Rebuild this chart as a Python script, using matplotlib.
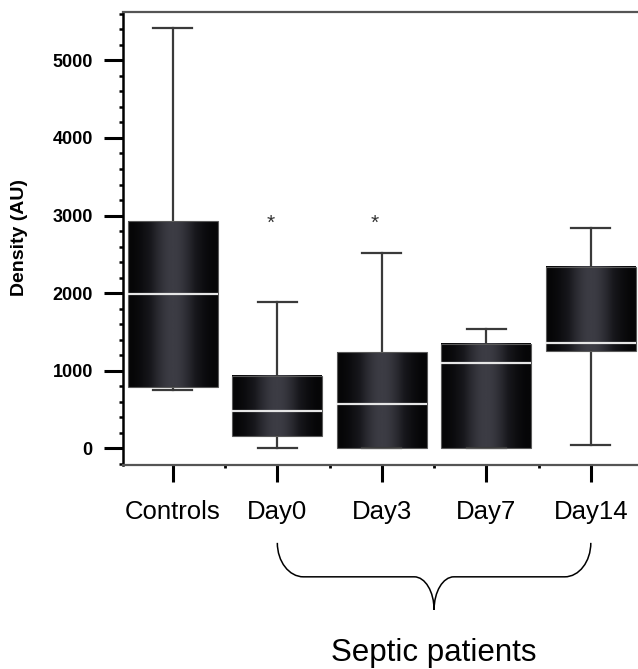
import numpy as np
import matplotlib
matplotlib.use("Agg")
import matplotlib.pyplot as plt
import matplotlib.transforms as mtransforms
from matplotlib.colors import LinearSegmentedColormap
from matplotlib.path import Path
from matplotlib.patches import PathPatch
from matplotlib.ticker import MultipleLocator

plt.rcParams["font.family"] = ["Liberation Sans", "DejaVu Sans"]

# values
groups = ["Controls", "Day0", "Day3", "Day7", "Day14"]
q1 = [786, 158, 0, 0, 1254]
medians = [1990, 485, 571, 1095, 1353]
q3 = [2924, 936, 1237, 1345, 2340]
whisk_lo = [751, 0, 0, 0, 39]
whisk_hi = [5416, 1885, 2517, 1541, 2839]
star_groups = ["Day0", "Day3"]
star_y = 2912
yticks = [0, 1000, 2000, 3000, 4000, 5000]

positions = np.arange(1, len(groups) + 1)
box_w = 0.86

fig = plt.figure(figsize=(6.38, 6.69), dpi=100)
ax = fig.add_axes([0.1923, 0.305, 0.832, 0.677])

stats = [
    dict(label=g, q1=a, med=m, q3=b, whislo=lo, whishi=hi, fliers=[])
    for g, a, m, b, lo, hi in zip(groups, q1, medians, q3, whisk_lo, whisk_hi)
]
ax.bxp(
    stats, positions=positions, widths=box_w, capwidths=0.375,
    showfliers=False, patch_artist=True,
    boxprops=dict(facecolor="none", edgecolor="#5a5a5a", linewidth=0.8, zorder=2.1),
    medianprops=dict(color="#e6e6e6", linewidth=1.6, zorder=2.5),
    whiskerprops=dict(color="#3a3a3a", linewidth=1.6),
    capprops=dict(color="#3a3a3a", linewidth=1.6),
)

# dark shaded fill of the boxes (lighter stripe in the middle)
t = np.linspace(0, 1, 64)
profile = np.cos(np.pi * (t - 0.5)) ** 2
grad = profile[np.newaxis, :]
box_cmap = LinearSegmentedColormap.from_list("box", ["#060607", "#18181d", "#3c3c44"])
for x, lo, hi in zip(positions, q1, q3):
    ax.imshow(grad, extent=(x - box_w / 2, x + box_w / 2, lo, hi), aspect="auto",
              cmap=box_cmap, vmin=0, vmax=1, zorder=1.5, interpolation="bilinear")

for g in star_groups:
    x = positions[groups.index(g)]
    ax.annotate("*", (x, star_y), xytext=(-5, -1), textcoords="offset points",
                ha="center", va="center", fontsize=15, color="#333333")

ax.set_xlim(0.52, 5.6)
ax.set_ylim(-215, 5623)

ax.set_xticks(positions, groups)
ax.xaxis.set_minor_locator(MultipleLocator(0.5))
ax.set_yticks(yticks)
ax.yaxis.set_minor_locator(MultipleLocator(200))

ax.tick_params(axis="y", which="major", direction="out", length=13.5, width=2.2, pad=8, labelsize=13)
ax.tick_params(axis="y", which="minor", direction="out", length=3, width=1.8)
ax.tick_params(axis="x", which="major", direction="out", length=12.5, width=2.2, pad=13, labelsize=18.5)
ax.tick_params(axis="x", which="minor", direction="out", length=2.5, width=2)
for lab in ax.get_yticklabels():
    lab.set_fontweight("bold")

ax.spines["right"].set_visible(False)
ax.spines["left"].set_color("black")
ax.spines["left"].set_linewidth(1.8)
for side in ["top", "bottom"]:
    ax.spines[side].set_color("#555555")
    ax.spines[side].set_linewidth(1.6)

fig.text(20 / 638, 1 - 237 / 669, "Density (AU)", rotation=90, ha="center", va="center",
         fontsize=14, fontweight="bold")

# curly brace under the septic groups
trans = mtransforms.blended_transform_factory(ax.transData, ax.transAxes)
x0 = positions[groups.index("Day0")]
x1 = positions[groups.index("Day14")]
xm = (x0 + x1) / 2
yt, ym, yp = -0.172, -0.247, -0.320
r, r2, k = 0.25, 0.19, 0.552
verts = [
    (x0, yt), (x0, yt + k * (ym - yt)), (x0 + r - k * r, ym), (x0 + r, ym),
    (xm - r2, ym),
    (xm - r2 + k * r2, ym), (xm, yp + k * (ym - yp)), (xm, yp),
    (xm, yp + k * (ym - yp)), (xm + r2 - k * r2, ym), (xm + r2, ym),
    (x1 - r, ym),
    (x1 - r + k * r, ym), (x1, yt + k * (ym - yt)), (x1, yt),
]
codes = ([Path.MOVETO] + [Path.CURVE4] * 3 + [Path.LINETO] + [Path.CURVE4] * 6
         + [Path.LINETO] + [Path.CURVE4] * 3)
ax.add_patch(PathPatch(Path(verts, codes), facecolor="none", edgecolor="black",
                       linewidth=1.1, transform=trans, clip_on=False))
ax.text(xm, -0.432, "Septic patients", transform=trans, ha="center", va="baseline", fontsize=22.5)

fig.savefig("out.png", dpi=100)
